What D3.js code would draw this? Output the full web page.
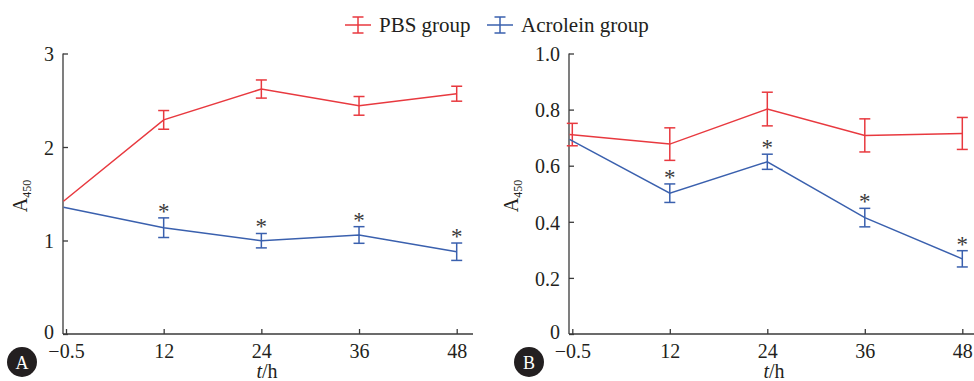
<!DOCTYPE html>
<html>
<head>
<meta charset="utf-8">
<script src="https://cdn.jsdelivr.net/npm/d3@7"></script>
<style>
  body { margin: 0; background: #fff; }
  svg text { font-family: "Liberation Serif", "DejaVu Serif", serif; fill: #231f20; }
</style>
</head>
<body>
<svg id="chart" width="974" height="381"></svg>
<script>
// time points (categorical, evenly spaced)
var times = ["-0.5", "12", "24", "36", "48"];
var seriesNames = ["PBS group", "Acrolein group"];
var seriesColors = ["#e8393f", "#3a60ae"];

// panel A
var pbsA = [1.42, 2.29, 2.62, 2.44, 2.57];
var pbsAErr = [0, 0.10, 0.097, 0.10, 0.08];
var acrA = [1.355, 1.137, 0.998, 1.059, 0.88];
var acrAErr = [0, 0.105, 0.077, 0.089, 0.093];
var yTicksA = [0, 1, 2, 3];

// panel B
var pbsB = [0.711, 0.677, 0.802, 0.708, 0.715];
var pbsBErr = [0.04, 0.058, 0.06, 0.059, 0.057];
var acrB = [0.694, 0.502, 0.614, 0.415, 0.268];
var acrBErr = [0, 0.033, 0.027, 0.033, 0.029];
var yTicksB = [0, 0.2, 0.4, 0.6, 0.8, 1.0];

// significance markers on acrolein series
var sig = [false, true, true, true, true];

var svg = d3.select("#chart");

function drawPanel(opt) {
  var g = svg.append("g");
  var x = d3.scalePoint().domain(times).range([opt.x0, opt.x1]);
  var y = d3.scaleLinear().domain([0, opt.ymax]).range([334, 53.5]);

  // axes with inward ticks
  var ya = g.append("g").attr("transform", "translate(" + opt.axisX + ",0)")
    .call(d3.axisRight(y).tickValues(opt.ticks).tickSize(5).tickFormat(opt.fmt));
  ya.select(".domain").attr("d", "M" + 0 + "," + y(opt.ymax) + "V" + y(0));
  ya.selectAll("path,line").attr("stroke", "#3a3a3a").attr("stroke-width", 1.3);
  ya.selectAll("text").attr("x", -9).attr("text-anchor", "end")
    .attr("dy", function (d) { return d == 0 ? "0.2em" : "0.36em"; })
    .style("font-size", "20px").style("fill", "#231f20");

  var xa = g.append("g").attr("transform", "translate(0,334)")
    .call(d3.axisTop(x).tickSize(5).tickFormat(function (d) { return d == "-0.5" ? "\u22120.5" : d; }));
  xa.select(".domain").attr("d", "M" + opt.axisX + ",0H" + opt.axisEnd);
  xa.selectAll("path,line").attr("stroke", "#3a3a3a").attr("stroke-width", 1.3);
  xa.selectAll("text").attr("y", 24).attr("dy", 0).style("font-size", "20px").style("fill", "#231f20");

  // series
  var sets = [[opt.pbs, opt.pbsErr], [opt.acr, opt.acrErr]];
  sets.forEach(function (s, si) {
    var pts = times.map(function (t, i) { return { t: t, v: s[0][i], e: s[1][i] }; });
    g.append("path").datum(pts)
      .attr("fill", "none").attr("stroke", seriesColors[si]).attr("stroke-width", 1.5)
      .attr("d", d3.line().x(function (d, i) { return i == 0 ? opt.axisX + 0.5 : x(d.t); })
        .y(function (d) { return y(d.v); }));
    var eb = g.selectAll(".eb" + si).data(pts.filter(function (d) { return d.e > 0; }))
      .enter().append("g").attr("stroke", seriesColors[si]).attr("stroke-width", 1.5);
    eb.append("line").attr("x1", function (d) { return x(d.t); }).attr("x2", function (d) { return x(d.t); })
      .attr("y1", function (d) { return y(d.v + d.e); }).attr("y2", function (d) { return y(d.v - d.e); });
    eb.append("line").attr("x1", function (d) { return x(d.t) - 5.5; }).attr("x2", function (d) { return x(d.t) + 5.5; })
      .attr("y1", function (d) { return y(d.v + d.e); }).attr("y2", function (d) { return y(d.v + d.e); });
    eb.append("line").attr("x1", function (d) { return x(d.t) - 5.5; }).attr("x2", function (d) { return x(d.t) + 5.5; })
      .attr("y1", function (d) { return y(d.v - d.e); }).attr("y2", function (d) { return y(d.v - d.e); });
    if (si == 1) {
      g.selectAll(".star").data(pts.filter(function (d, i) { return sig[i]; }))
        .enter().append("text")
        .attr("x", function (d) { return x(d.t); })
        .attr("y", function (d) { return y(d.v + d.e) + 1; })
        .attr("text-anchor", "middle").style("font-size", "23px").style("fill", "#3a3a3a")
        .text("*");
    }
  });

  // y label A450
  var yl = g.append("text").attr("transform", "translate(" + opt.labX + ",196) rotate(-90)")
    .attr("text-anchor", "middle").style("font-size", "20px");
  yl.append("tspan").text("A");
  yl.append("tspan").attr("dy", 4).style("font-size", "12px").text("450");

  // x label t/h
  var xl = g.append("text").attr("x", opt.xlabX).attr("y", 378).attr("text-anchor", "middle").style("font-size", "20px");
  xl.append("tspan").style("font-style", "italic").text("t");
  xl.append("tspan").text("/h");

  // panel badge
  g.append("circle").attr("cx", opt.badgeX).attr("cy", 362).attr("r", 15).attr("fill", "#231f20");
  g.append("text").attr("x", opt.badgeX).attr("y", 368.5).attr("text-anchor", "middle")
    .style("font-size", "18px").style("fill", "#fff").text(opt.badge);
}

drawPanel({ x0: 66, x1: 456.7, axisX: 63, axisEnd: 473, ymax: 3, ticks: yTicksA,
  fmt: d3.format("d"), pbs: pbsA, pbsErr: pbsAErr, acr: acrA, acrErr: acrAErr,
  labX: 27, xlabX: 267, badgeX: 22, badge: "A" });
drawPanel({ x0: 572.3, x1: 962.3, axisX: 569, axisEnd: 974, ymax: 1.0, ticks: yTicksB,
  fmt: function (d) { return d == 0 ? "0" : d3.format(".1f")(d); }, pbs: pbsB, pbsErr: pbsBErr, acr: acrB, acrErr: acrBErr,
  labX: 518, xlabX: 774, badgeX: 529, badge: "B" });

// legend
var legX = [345, 487];
var leg = svg.selectAll(".leg").data(seriesNames).enter().append("g")
  .attr("transform", function (d, i) { return "translate(" + legX[i] + ",25)"; })
  .attr("stroke", function (d, i) { return seriesColors[i]; }).attr("stroke-width", 1.5);
leg.append("line").attr("x1", 0).attr("x2", 26).attr("y1", 0).attr("y2", 0);
leg.append("line").attr("x1", 13).attr("x2", 13).attr("y1", -8).attr("y2", 8);
leg.append("line").attr("x1", 7.5).attr("x2", 18.5).attr("y1", -8).attr("y2", -8);
leg.append("line").attr("x1", 7.5).attr("x2", 18.5).attr("y1", 8).attr("y2", 8);
leg.append("text").attr("x", 34).attr("y", 7).attr("stroke", "none")
  .style("font-size", "21px").text(function (d) { return d; });
</script>
</body>
</html>
